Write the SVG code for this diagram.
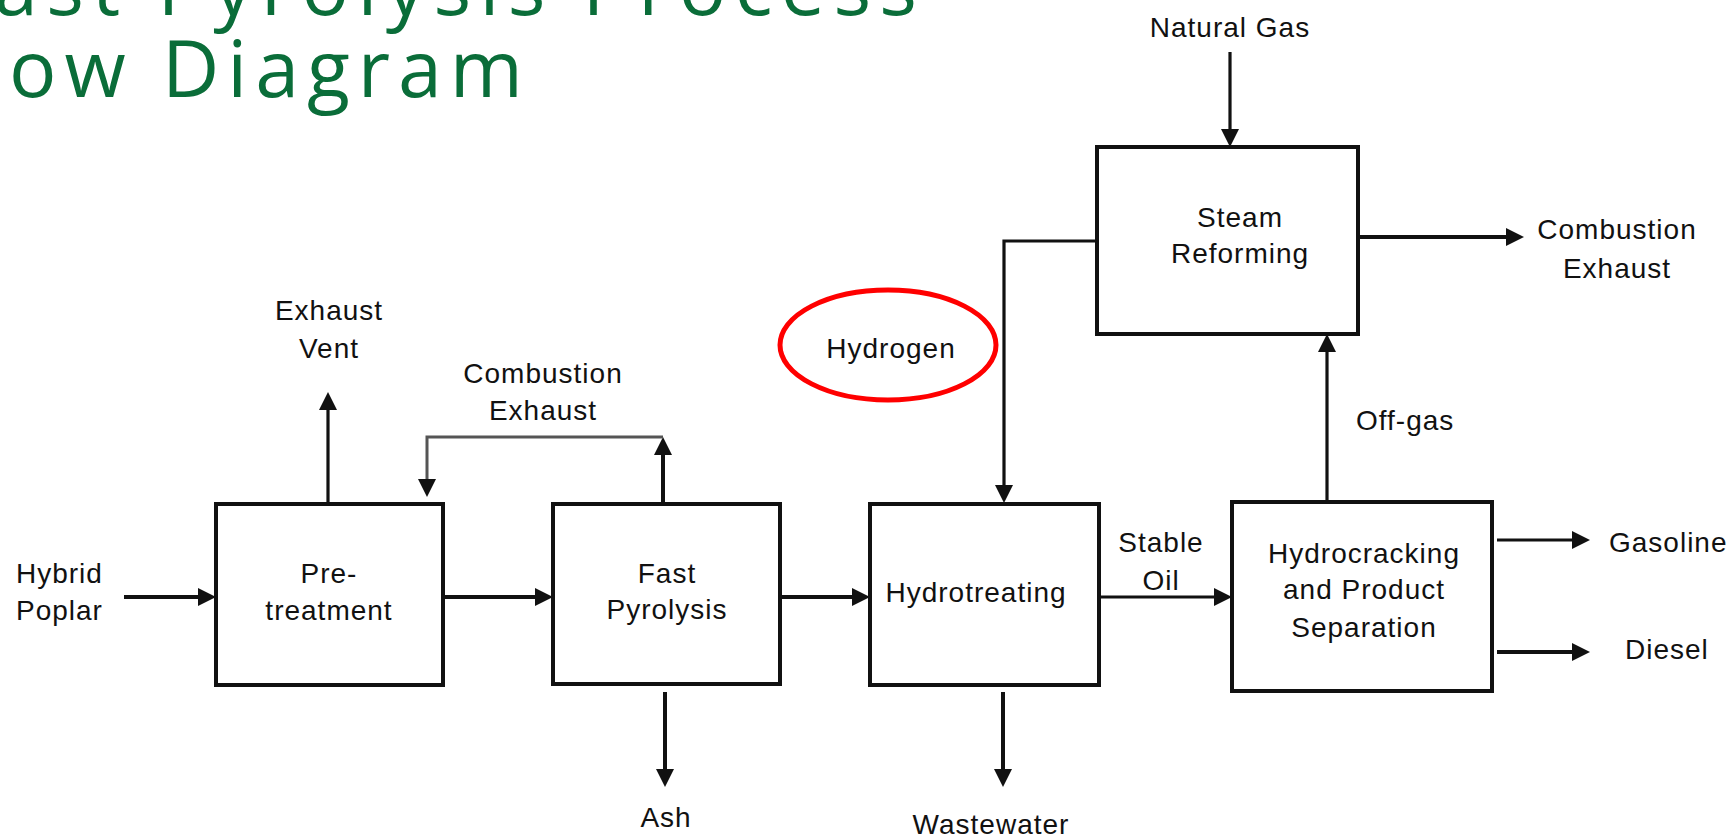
<svg xmlns="http://www.w3.org/2000/svg" width="1731" height="839" viewBox="0 0 1731 839">
<style>
.title{font-family:"Open Sans","Liberation Sans",sans-serif;font-weight:400;font-size:79px;fill:#0a6d39}
.lbl{font-family:"Liberation Sans",Arial,sans-serif;font-size:28px;fill:#111;letter-spacing:1px}
.mid{text-anchor:middle}
.box{fill:#fff;stroke:#111;stroke-width:4}
.ln{fill:none;stroke:#111;stroke-width:4}
.thin{fill:none;stroke:#111;stroke-width:3.2}
.gray{fill:none;stroke:#555;stroke-width:3}
</style>
<defs>
<marker id="ah" markerUnits="userSpaceOnUse" markerWidth="18" markerHeight="18" viewBox="0 0 18 18" refX="8" refY="9" orient="auto">
<path d="M0,0 L18,9 L0,18 z" fill="#111"/>
</marker>
</defs>
<rect width="1731" height="839" fill="#fff"/>
<g id="title">
<text class="title" x="-6" y="15" textLength="923" lengthAdjust="spacing">ast Pyrolysis Process</text>
<text class="title" x="9" y="97" textLength="514" lengthAdjust="spacing">ow Diagram</text>
</g>
<g id="connectors">
<line class="ln" x1="124" y1="597" x2="206" y2="597" marker-end="url(#ah)"/>
<line class="ln" x1="443" y1="597" x2="543" y2="597" marker-end="url(#ah)"/>
<line class="ln" x1="780" y1="597" x2="860" y2="597" marker-end="url(#ah)"/>
<line class="thin" x1="1099" y1="597" x2="1222" y2="597" marker-end="url(#ah)"/>
<line class="thin" x1="328" y1="504" x2="328" y2="402" marker-end="url(#ah)"/>
<line class="ln" x1="663" y1="504" x2="663" y2="447" marker-end="url(#ah)"/>
<polyline class="gray" points="663,437 427,437 427,487" marker-end="url(#ah)"/>
<line class="ln" x1="665" y1="692" x2="665" y2="777" marker-end="url(#ah)"/>
<line class="ln" x1="1003" y1="692" x2="1003" y2="777" marker-end="url(#ah)"/>
<polyline class="thin" points="1097,241 1004,241 1004,493" marker-end="url(#ah)"/>
<line class="thin" x1="1230" y1="52" x2="1230" y2="137" marker-end="url(#ah)"/>
<line class="ln" x1="1358" y1="237" x2="1514" y2="237" marker-end="url(#ah)"/>
<line class="thin" x1="1327" y1="502" x2="1327" y2="344" marker-end="url(#ah)"/>
<line class="thin" x1="1497" y1="540" x2="1580" y2="540" marker-end="url(#ah)"/>
<line class="ln" x1="1497" y1="652" x2="1580" y2="652" marker-end="url(#ah)"/>
</g>
<g id="pretreatment">
<rect class="box" x="216" y="504" width="227" height="181"/>
<text class="lbl mid" x="329" y="583">Pre-</text>
<text class="lbl mid" x="329" y="620">treatment</text>
</g>
<g id="fast-pyrolysis">
<rect class="box" x="553" y="504" width="227" height="180"/>
<text class="lbl mid" x="667" y="583">Fast</text>
<text class="lbl mid" x="667" y="619">Pyrolysis</text>
</g>
<g id="hydrotreating">
<rect class="box" x="870" y="504" width="229" height="181"/>
<text class="lbl mid" x="976" y="602">Hydrotreating</text>
</g>
<g id="steam-reforming">
<rect class="box" x="1097" y="147" width="261" height="187"/>
<text class="lbl mid" x="1240" y="227">Steam</text>
<text class="lbl mid" x="1240" y="263">Reforming</text>
</g>
<g id="hydrocracking">
<rect class="box" x="1232" y="502" width="260" height="189"/>
<text class="lbl mid" x="1364" y="563">Hydrocracking</text>
<text class="lbl mid" x="1364" y="599">and Product</text>
<text class="lbl mid" x="1364" y="637">Separation</text>
</g>
<g id="hydrogen">
<ellipse cx="888" cy="345" rx="108" ry="55" fill="none" stroke="#f00" stroke-width="5"/>
<text class="lbl mid" x="891" y="358">Hydrogen</text>
</g>
<g id="labels">
<text class="lbl" x="16" y="583">Hybrid</text>
<text class="lbl" x="16" y="620">Poplar</text>
<text class="lbl mid" x="329" y="320">Exhaust</text>
<text class="lbl mid" x="329" y="358">Vent</text>
<text class="lbl mid" x="543" y="383">Combustion</text>
<text class="lbl mid" x="543" y="420">Exhaust</text>
<text class="lbl mid" x="1230" y="37">Natural Gas</text>
<text class="lbl mid" x="1617" y="239">Combustion</text>
<text class="lbl mid" x="1617" y="278">Exhaust</text>
<text class="lbl" x="1356" y="430">Off-gas</text>
<text class="lbl mid" x="1161" y="552">Stable</text>
<text class="lbl mid" x="1161" y="590">Oil</text>
<text class="lbl" x="1609" y="552">Gasoline</text>
<text class="lbl" x="1625" y="659">Diesel</text>
<text class="lbl mid" x="666" y="827">Ash</text>
<text class="lbl mid" x="991" y="834">Wastewater</text>
</g>
</svg>
